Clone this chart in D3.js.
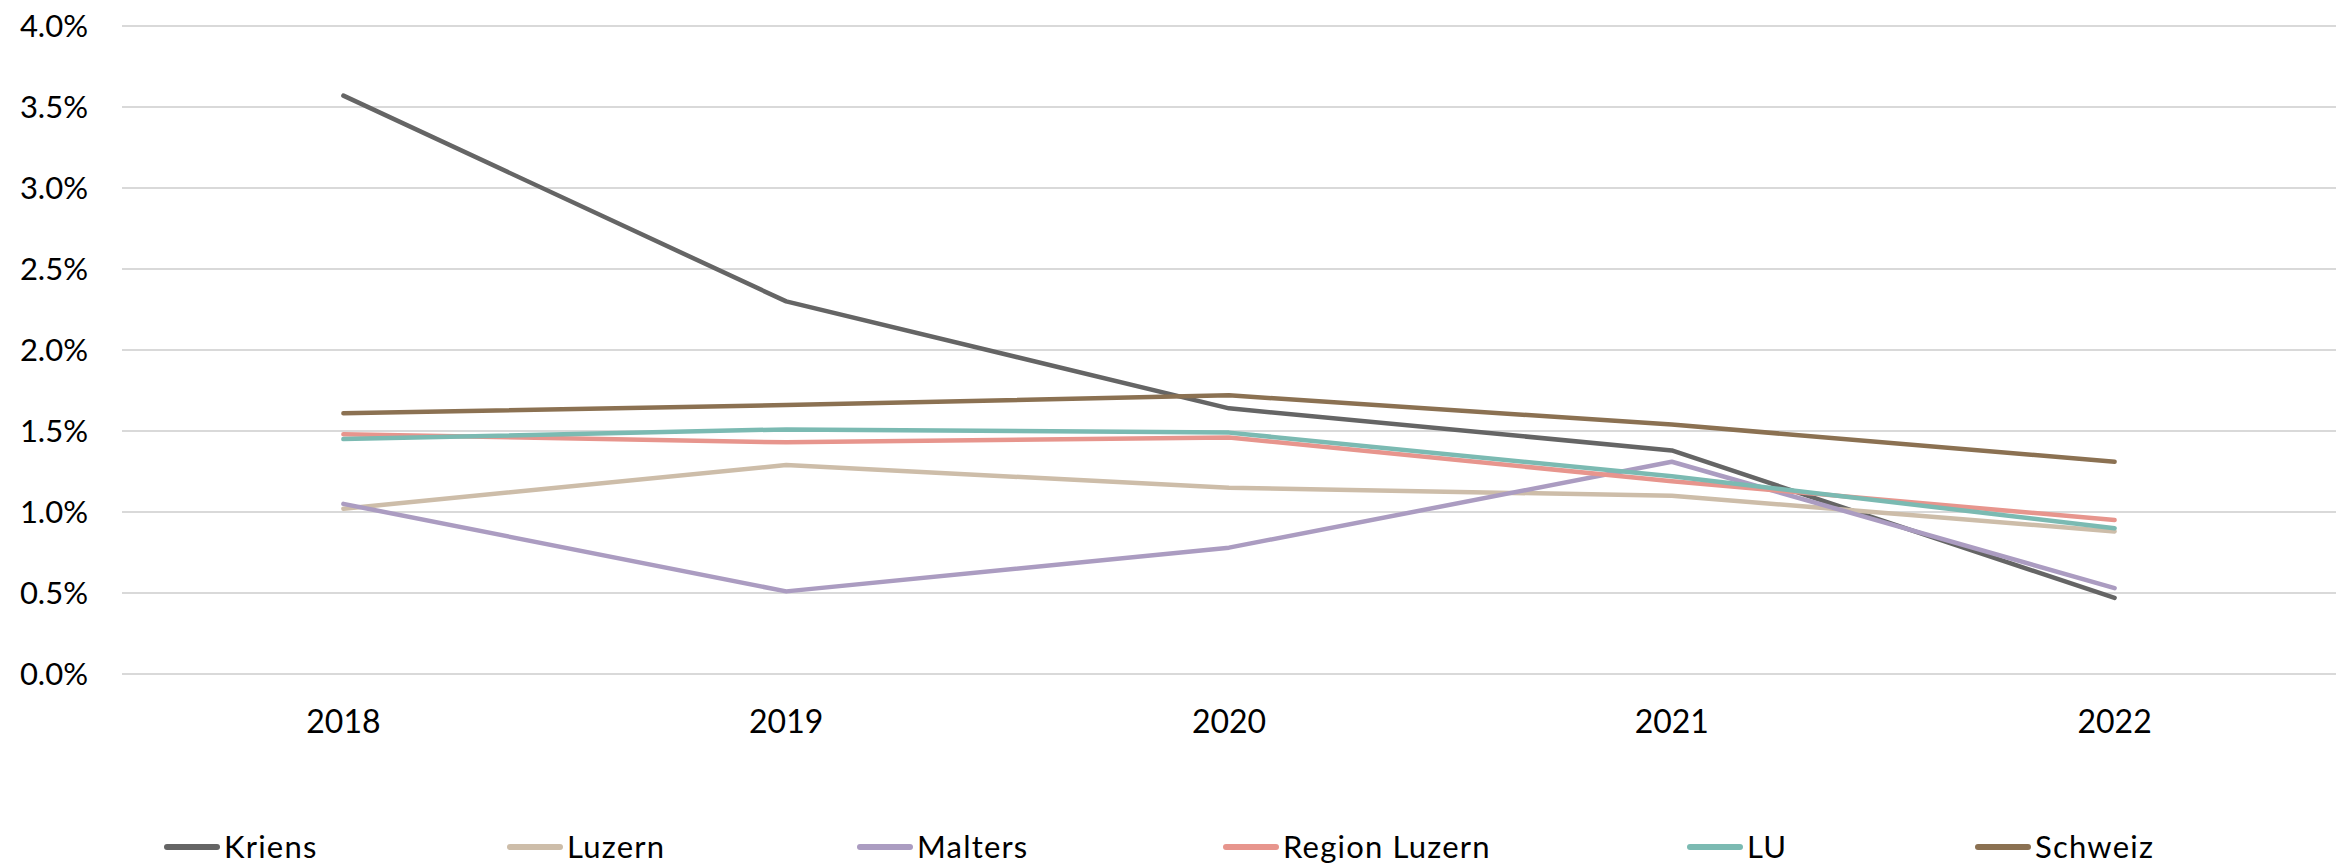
<!DOCTYPE html>
<html>
<head>
<meta charset="utf-8">
<script src="https://cdn.jsdelivr.net/npm/d3@7/dist/d3.min.js"></script>
<style>
  body { margin: 0; background: #fff; }
  text { font-family: Lato, "Open Sans", sans-serif; fill: #000; }
</style>
</head>
<body>
<svg id="chart" width="2351" height="866"></svg>
<script>
let years = ['2018', '2019', '2020', '2021', '2022'];
let seriesNames = ['Kriens', 'Luzern', 'Malters', 'Region Luzern', 'LU', 'Schweiz'];
let seriesColors = ['#656565', '#cdbda9', '#ab9cc1', '#e7958d', '#7bbab2', '#8b7152'];

// Werte in %
let kriens = [3.57, 2.30, 1.64, 1.38, 0.47];
let luzern = [1.02, 1.29, 1.15, 1.10, 0.88];
let malters = [1.05, 0.51, 0.78, 1.31, 0.53];
let regionLuzern = [1.48, 1.43, 1.46, 1.19, 0.95];
let lu = [1.45, 1.51, 1.49, 1.22, 0.90];
let schweiz = [1.61, 1.66, 1.72, 1.54, 1.31];

let yTicks = [0, 0.5, 1.0, 1.5, 2.0, 2.5, 3.0, 3.5, 4.0];

let allSeries = [kriens, luzern, malters, regionLuzern, lu, schweiz];

let plotLeft = 122, plotRight = 2336, plotTop = 26, plotBottom = 674;

let svg = d3.select('#chart');

let x = d3.scaleBand().domain(years).range([plotLeft, plotRight]);
let y = d3.scaleLinear().domain([0, 4]).range([plotBottom, plotTop]);

// gridlines
svg.append('g').selectAll('line')
    .data(yTicks)
    .enter().append('line')
    .attr('x1', plotLeft).attr('x2', plotRight)
    .attr('y1', d => y(d)).attr('y2', d => y(d))
    .attr('stroke', '#d9d9d9')
    .attr('stroke-width', 2.2);

// y labels
svg.append('g').selectAll('text')
    .data(yTicks)
    .enter().append('text')
    .attr('x', 88)
    .attr('y', d => y(d))
    .attr('dy', '0.35em')
    .attr('text-anchor', 'end')
    .style('font-size', '31px')
    .text(d => d.toFixed(1) + '%');

// x labels
svg.append('g').selectAll('text')
    .data(years)
    .enter().append('text')
    .attr('x', d => x(d) + x.bandwidth() / 2)
    .attr('y', 733)
    .attr('text-anchor', 'middle')
    .style('font-size', '32px')
    .text(d => d);

let line = d3.line()
    .x((d, i) => x(years[i]) + x.bandwidth() / 2)
    .y(d => y(d));

for (let i = 0; i < allSeries.length; i++) {
    svg.append('path')
        .attr('d', line(allSeries[i]))
        .attr('fill', 'none')
        .attr('stroke', seriesColors[i])
        .attr('stroke-width', 4.5)
        .attr('stroke-linecap', 'round')
        .attr('stroke-linejoin', 'round');
}

// legend
let legendX = [164, 507, 857, 1223, 1687, 1975];
let legendY = 847;
let legend = svg.append('g');
for (let i = 0; i < seriesNames.length; i++) {
    legend.append('line')
        .attr('x1', legendX[i] + 3).attr('x2', legendX[i] + 53)
        .attr('y1', legendY).attr('y2', legendY)
        .attr('stroke', seriesColors[i])
        .attr('stroke-width', 6)
        .attr('stroke-linecap', 'round');
    legend.append('text')
        .attr('x', legendX[i] + 60)
        .attr('y', legendY)
        .attr('dy', '0.36em')
        .style('font-size', '31px')
        .style('letter-spacing', '1.2px')
        .text(seriesNames[i]);
}
</script>
</body>
</html>
